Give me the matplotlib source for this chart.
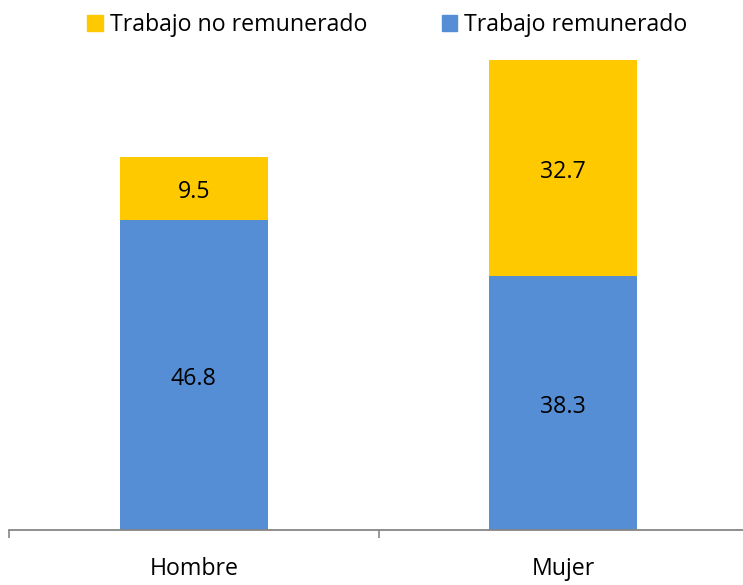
import matplotlib.pyplot as plt
from matplotlib.patches import Patch

# data
categories = ['Hombre', 'Mujer']
remunerado = [46.8, 38.3]
no_remunerado = [9.5, 32.7]

blue = '#558ED5'
yellow = '#FFC900'
fs = 16.7

plt.rcParams['font.family'] = ['Open Sans', 'DejaVu Sans']

fig = plt.figure(figsize=(7.43, 5.85), dpi=100)
ax = fig.add_axes([9 / 743, 55.5 / 585, 739 / 743, 529.5 / 585])

x = list(range(len(categories)))
b1 = ax.bar(x, remunerado, width=0.4, color=blue)
b2 = ax.bar(x, no_remunerado, width=0.4, bottom=remunerado, color=yellow)

# value labels in the middle of each segment
for bars in (b1, b2):
    ax.bar_label(bars, labels=[f'{b.get_height():.1f}' for b in bars],
                 label_type='center', fontsize=fs, padding=-3)

ax.set_xlim(-0.5, 1.5)
ax.set_ylim(0, 80)
ax.set_yticks([])
ax.set_xticks([-0.5, 0.5, 1.5])
ax.set_xticklabels([])
ax.set_xticks(x, minor=True)
ax.set_xticklabels(categories, minor=True, fontsize=fs)
ax.tick_params(axis='x', which='major', direction='out', length=6, width=1.2, color='#868686')
ax.tick_params(axis='x', which='minor', length=0, pad=20)

for side in ('top', 'right', 'left'):
    ax.spines[side].set_visible(False)
ax.spines['bottom'].set_color('#868686')
ax.spines['bottom'].set_linewidth(1.3)

handles = [Patch(color=yellow), Patch(color=blue)]
fig.legend(handles, ['Trabajo no remunerado', 'Trabajo remunerado'],
           loc='center', bbox_to_anchor=(0.5215, 0.957), ncol=2, frameon=False,
           fontsize=fs, handlelength=0.65, handleheight=0.65,
           handletextpad=0.33, columnspacing=3.19)

fig.savefig('out.png', dpi=100)
